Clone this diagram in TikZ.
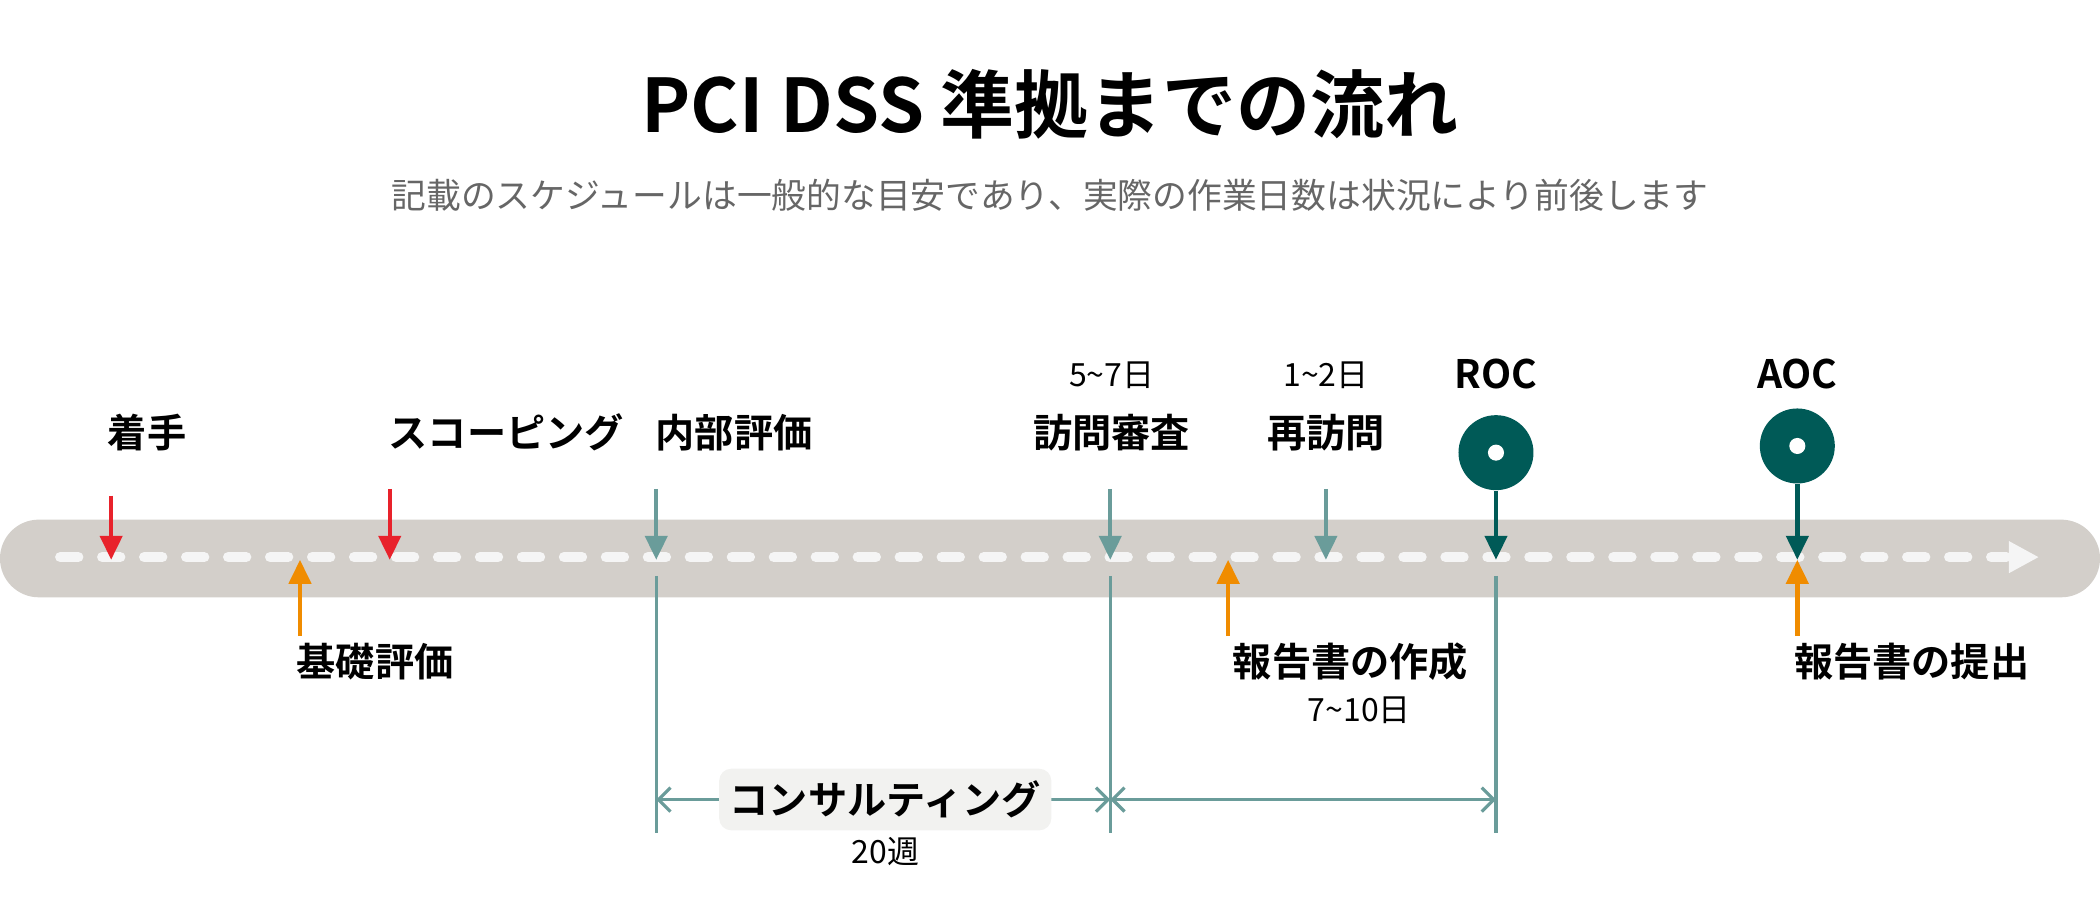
\documentclass[tikz,border=0pt]{standalone}
\usepackage{fontspec}
\setmainfont{Noto Sans CJK JP}
\newfontfamily\bfj{Noto Sans CJK JP Bold}
\usetikzlibrary{arrows.meta}
\definecolor{barc}{HTML}{D3CFCA}
\definecolor{redc}{HTML}{E8222B}
\definecolor{orc}{HTML}{F08C00}
\definecolor{tealc}{HTML}{6A9C9A}
\definecolor{dtc}{HTML}{005A57}
\definecolor{boxc}{HTML}{F2F2F0}
\begin{document}
\begin{tikzpicture}[x=0.335pt,y=-0.335pt,
 lab/.style={font=\bfj\fontsize{9.8pt}{10pt}\selectfont,inner sep=0pt},
 sm/.style={font=\fontsize{8pt}{8pt}\selectfont,inner sep=0pt},
 red/.style={draw=redc,line width=1.1pt,-{Triangle[length=6pt,width=5.5pt]}},
 org/.style={draw=orc,line width=1.1pt,-{Triangle[length=6pt,width=5.5pt]}},
 tl/.style={draw=tealc,line width=1.1pt,-{Triangle[length=6pt,width=5.5pt]}},
 dt/.style={draw=dtc,line width=1.1pt,-{Triangle[length=6pt,width=5.5pt]}},
 vl/.style={draw=tealc,line width=0.8pt},
 dim/.style={draw=tealc,line width=0.8pt,{Straight Barb[length=3pt,width=6pt]}-{Straight Barb[length=3pt,width=6pt]}}]
\useasboundingbox (0,0) rectangle (1568,675);
\node[font=\bfj\fontsize{18.5pt}{19pt}\selectfont] (title) at (784,78) {PCI DSS 準拠までの流れ};
\node[font=\fontsize{8.7pt}{9pt}\selectfont,text=black!60] (sub) at (784,146) {記載のスケジュールは一般的な目安であり、実際の作業日数は状況により前後します};
% bar
\fill[barc,rounded corners=9.7pt] (0,388) rectangle (1568,446);
\draw[white!96!black,line width=2.6pt,line cap=round,dash pattern=on 4.5pt off 6pt] (45,416) -- (1498,416);
\fill[white!96!black] (1500,404) -- (1522,416) -- (1500,428) -- cycle;
% coordinates
\foreach \n/\x in {a/83,b/291,c/224,d/490,e/829,f/990,g/917,h/1117,i/1342}{\coordinate (\n) at (\x,418);}
\coordinate (a0) at (83,370); \coordinate (b0) at (291,365);
\coordinate (c0) at (224,475); \coordinate (g0) at (917,475); \coordinate (i1) at (1342,475);
\coordinate (d0) at (490,365); \coordinate (e0) at (829,365); \coordinate (f0) at (990,365);
\draw[red] (a0) -- (a);
\draw[red] (b0) -- (b);
\draw[org] (c0) -- (c);
\draw[org] (g0) -- (g);
\draw[org] (i1) -- (i);
\draw[tl] (d0) -- (d);
\draw[tl] (e0) -- (e);
\draw[tl] (f0) -- (f);
\node[circle,fill=dtc,minimum size=56*0.335pt,inner sep=0pt] (roc) at (1117,338) {};
\node[circle,fill=white,minimum size=12*0.335pt,inner sep=0pt] at (roc) {};
\node[circle,fill=dtc,minimum size=56*0.335pt,inner sep=0pt] (aoc) at (1342,333) {};
\node[circle,fill=white,minimum size=12*0.335pt,inner sep=0pt] at (aoc) {};
\draw[dt] (roc.south) -- (h);
\draw[dt] (aoc.south) -- (i);
% vertical lines
\coordinate (d1) at (490,430); \coordinate (d2) at (490,622);
\coordinate (e1) at (829,430); \coordinate (e2) at (829,622);
\coordinate (h1) at (1117,430); \coordinate (h2) at (1117,622);
\draw[vl] (d1) -- (d2); \draw[vl] (e1) -- (e2); \draw[vl] (h1) -- (h2);
\coordinate (m1) at (490,597); \coordinate (m2) at (829,597); \coordinate (m3) at (1117,597);
\draw[dim] (m1) -- (m2);
\draw[dim] (m2) -- (m3);
\node[lab,fill=boxc,rounded corners=3pt,minimum width=248*0.335pt,minimum height=46*0.335pt] (cons) at (661,597) {コンサルティング};
\node[sm] (w) at (661,636) {20週};
% labels
\node[lab,anchor=west] (l1) at (80,323) {着手};
\node[lab] (l2) at (378,323) {スコーピング};
\node[lab,anchor=west] (l3) at (489,323) {内部評価};
\node[lab] (l4) at (830,323) {訪問審査};
\node[lab] (l5) at (990,323) {再訪問};
\node[sm] (s4) at (830,280) {5\textasciitilde 7日};
\node[sm] (s5) at (990,280) {1\textasciitilde 2日};
\node[lab] (l6) at (1117,279) {ROC};
\node[lab] (l7) at (1342,279) {AOC};
\node[lab,anchor=west] (l8) at (221,494) {基礎評価};
\node[lab,anchor=west] (l9) at (920,494) {報告書の作成};
\node[sm] (s9) at (1015,530) {7\textasciitilde 10日};
\node[lab,anchor=west] (l10) at (1339,494) {報告書の提出};
\end{tikzpicture}
\end{document}
